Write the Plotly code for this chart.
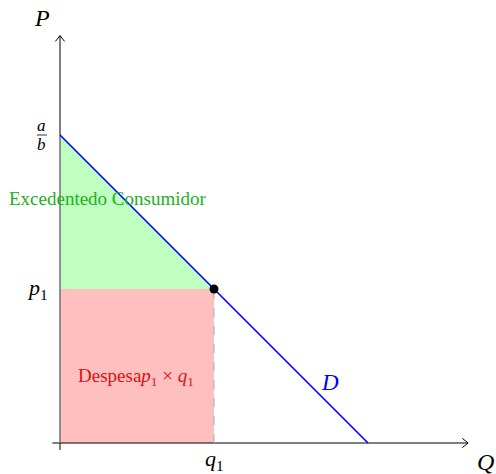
import plotly.graph_objects as go

# Data (model units)
intercept = 4.0      # a/b
slope = 1.0
q1 = 2.0
p1 = intercept - slope * q1
q_max = intercept / slope
x_axis_end = 5.3
y_axis_end = 5.29
axis_start = -0.1

SERIF = "Liberation Serif"
GREEN_FILL = "#bfffbf"
RED_FILL = "#ffbfbf"
BLUE = "#0000ff"

fig = go.Figure()

fig.add_trace(go.Scatter(x=[0, 0, q1, 0], y=[intercept, p1, p1, intercept],
                         fill="toself", fillcolor=GREEN_FILL, mode="lines",
                         line=dict(width=0), hoverinfo="skip", showlegend=False))
fig.add_trace(go.Scatter(x=[0, q1, q1, 0, 0], y=[0, 0, p1, p1, 0],
                         fill="toself", fillcolor=RED_FILL, mode="lines",
                         line=dict(width=0), hoverinfo="skip", showlegend=False))

fig.add_trace(go.Scatter(x=[axis_start, x_axis_end], y=[0, 0], mode="lines",
                         line=dict(color="black", width=1), showlegend=False, hoverinfo="skip"))
fig.add_trace(go.Scatter(x=[0, 0], y=[-0.09, y_axis_end], mode="lines",
                         line=dict(color="black", width=1), showlegend=False, hoverinfo="skip"))
fig.add_trace(go.Scatter(x=[0, 0], y=[0, intercept], mode="lines",
                         line=dict(color="#aaaaaa", width=1), showlegend=False, hoverinfo="skip"))
ah = 0.075
fig.add_trace(go.Scatter(x=[x_axis_end - ah, x_axis_end, x_axis_end - ah], y=[ah * 0.8, 0, -ah * 0.8],
                         mode="lines", line=dict(color="black", width=1), showlegend=False, hoverinfo="skip"))
fig.add_trace(go.Scatter(x=[-ah * 0.8, 0, ah * 0.8], y=[y_axis_end - ah, y_axis_end, y_axis_end - ah],
                         mode="lines", line=dict(color="black", width=1), showlegend=False, hoverinfo="skip"))

fig.add_trace(go.Scatter(x=[q1, q1], y=[0, p1], mode="lines",
                         line=dict(color="#aaaaaa", width=1, dash="dash"), showlegend=False, hoverinfo="skip"))

fig.add_trace(go.Scatter(x=[0, q_max], y=[intercept, 0], mode="lines",
                         line=dict(color=BLUE, width=1.6), showlegend=False, hoverinfo="skip"))
fig.add_trace(go.Scatter(x=[q1], y=[p1], mode="markers",
                         marker=dict(color="black", size=9), showlegend=False, hoverinfo="skip"))

def txt(x, y, s, size, color="black", xanchor="center"):
    fig.add_annotation(x=x, y=y, text=s, showarrow=False, xanchor=xanchor, yanchor="middle",
                       font=dict(family=SERIF, size=size, color=color))

txt(-0.234, 5.52, "<i>P</i>", 24)
txt(5.53, -0.25, "<i>Q</i>", 24)
txt(-0.234, 4.12, "<i>a</i>", 17)
txt(-0.234, 3.88, "<i>b</i>", 17)
fig.add_shape(type="line", x0=-0.30, x1=-0.17, y0=intercept, y1=intercept,
              line=dict(color="black", width=0.8))
txt(-0.29, p1, "<i>p</i><sub>1</sub>", 22)
txt(q1, -0.22, "<i>q</i><sub>1</sub>", 22)
txt(0.62, 3.18, "Excedentedo Consumidor", 19, color="#22b022")
txt(0.99, 0.86, "Despesa<i>p</i><sub>1</sub> × <i>q</i><sub>1</sub>", 19, color="#e01010")
txt(3.5, 0.78, "<i>D</i>", 23, color=BLUE)

ox, oy, scale = 60, 443, 77
fig.update_layout(
    width=496, height=474,
    margin=dict(l=0, r=0, t=0, b=0),
    paper_bgcolor="white", plot_bgcolor="white",
    hovermode=False,
    xaxis=dict(range=[-ox / scale, (496 - ox) / scale], visible=False, fixedrange=True),
    yaxis=dict(range=[-(474 - oy) / scale, oy / scale], visible=False, fixedrange=True),
)

fig.write_html("out.html",
               config={"displayModeBar": False, "staticPlot": True},
               post_script="document.body.style.margin='0';document.body.style.overflow='hidden';")
